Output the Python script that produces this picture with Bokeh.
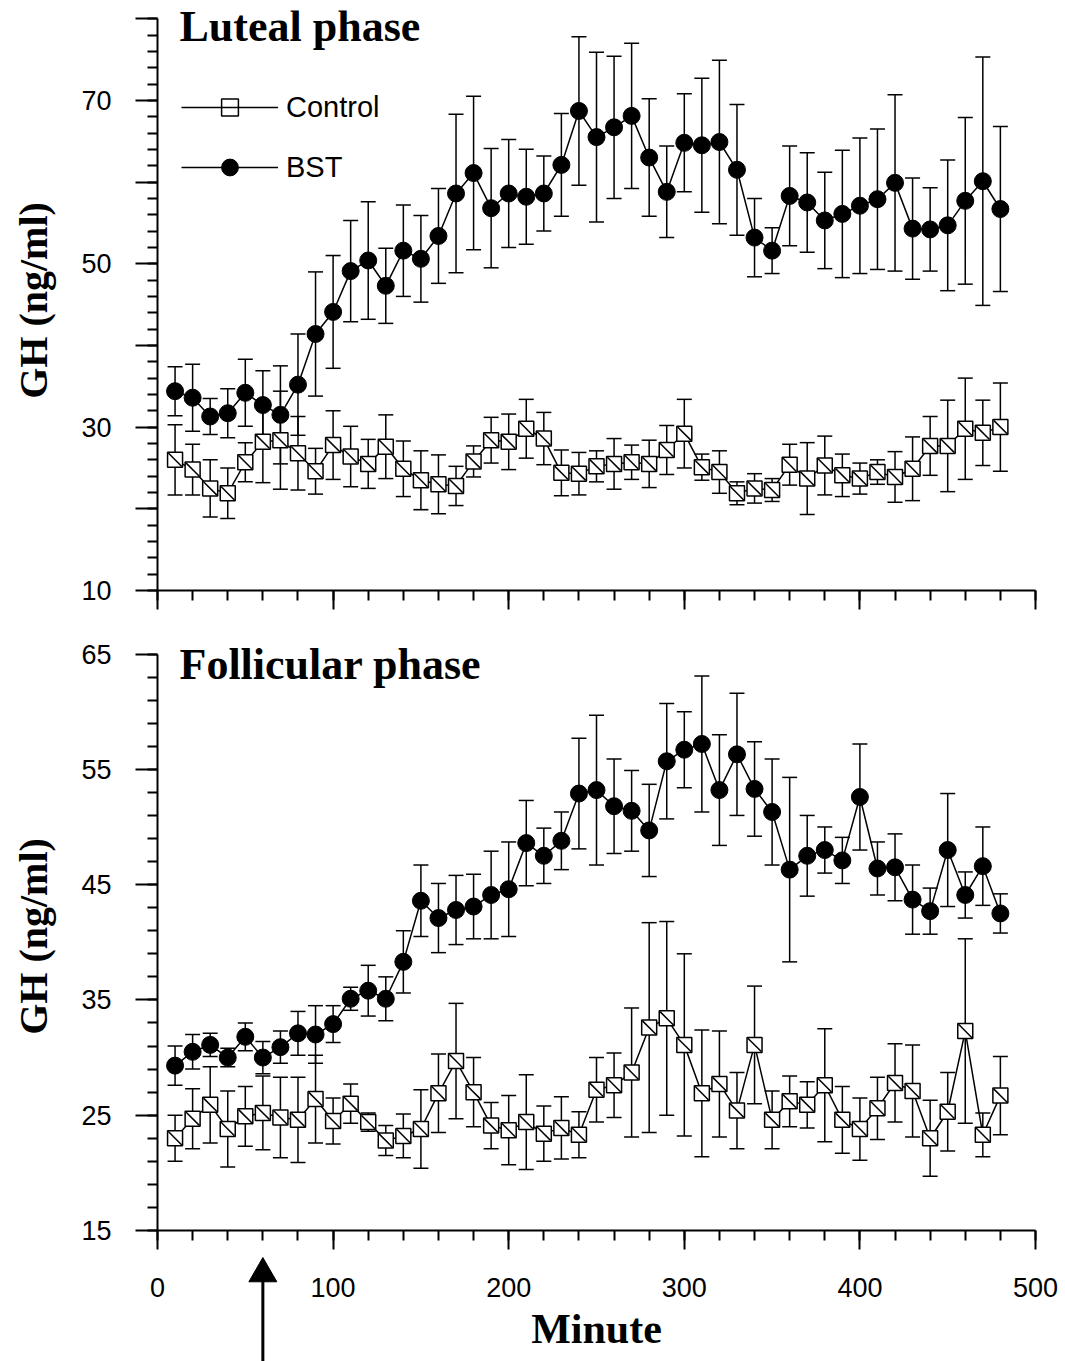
import math
from bokeh.plotting import figure
from bokeh.models import (ColumnDataSource, Whisker, TeeHead, Range1d, FixedTicker,
                          Legend, LegendItem, Label)
from bokeh.core.properties import value
from bokeh.layouts import column
from bokeh.embed import file_html
from bokeh.resources import INLINE

# ---------------- data ----------------
minutes = [10, 20, 30, 40, 50, 60, 70, 80, 90, 100, 110, 120, 130, 140, 150, 160,
           170, 180, 190, 200, 210, 220, 230, 240, 250, 260, 270, 280, 290, 300, 310, 320,
           330, 340, 350, 360, 370, 380, 390, 400, 410, 420, 430, 440, 450, 460, 470, 480]

luteal_control = [26.0, 24.8, 22.5, 21.9, 25.7, 28.2, 28.4, 26.8, 24.6, 27.8,
                  26.4, 25.5, 27.6, 24.9, 23.5, 23.0, 22.8, 25.8, 28.4, 28.2,
                  29.8, 28.6, 24.4, 24.3, 25.2, 25.5, 25.7, 25.5, 27.2, 29.2,
                  25.1, 24.5, 21.9, 22.5, 22.3, 25.4, 23.7, 25.3, 24.1, 23.7,
                  24.5, 23.9, 24.9, 27.7, 27.7, 29.8, 29.3, 30.0]
luteal_control_sem = [4.3, 3.1, 3.5, 3.1, 2.4, 5.0, 6.0, 4.5, 2.8, 4.2,
                      3.7, 3.0, 3.9, 3.4, 3.6, 3.6, 2.4, 1.9, 2.8, 3.4,
                      3.6, 3.2, 2.8, 2.6, 1.9, 3.1, 2.1, 2.9, 3.0, 4.2,
                      1.6, 2.6, 1.4, 1.8, 1.4, 2.5, 4.4, 3.6, 2.6, 1.9,
                      1.5, 3.1, 3.9, 3.6, 5.6, 6.2, 4.0, 5.4]
luteal_bst = [34.4, 33.6, 31.3, 31.7, 34.2, 32.7, 31.5, 35.2, 41.4, 44.1,
              49.1, 50.4, 47.3, 51.6, 50.6, 53.4, 58.6, 61.1, 56.8, 58.6,
              58.2, 58.6, 62.1, 68.7, 65.5, 66.7, 68.1, 63.0, 58.8, 64.8,
              64.5, 64.9, 61.5, 53.2, 51.6, 58.3, 57.5, 55.3, 56.1, 57.1,
              57.9, 59.9, 54.3, 54.2, 54.7, 57.7, 60.1, 56.7]
luteal_bst_sem = [3.0, 4.1, 2.2, 3.0, 4.1, 4.2, 6.0, 6.2, 7.6, 6.9,
                  6.2, 7.2, 4.6, 5.6, 5.3, 5.8, 9.7, 9.4, 7.3, 6.6,
                  5.8, 4.6, 6.3, 9.1, 10.4, 8.7, 8.9, 7.2, 5.6, 6.0,
                  8.2, 10.0, 8.0, 4.8, 2.8, 6.1, 6.1, 5.9, 7.8, 8.3,
                  8.6, 10.8, 6.2, 5.1, 8.0, 10.2, 15.2, 10.1]

follicular_control = [23.0, 24.7, 25.9, 23.8, 24.9, 25.2, 24.8, 24.6, 26.4, 24.5,
                      26.0, 24.4, 22.8, 23.2, 23.8, 26.9, 29.7, 27.0, 24.1, 23.7,
                      24.4, 23.4, 23.9, 23.3, 27.2, 27.6, 28.7, 32.6, 33.4, 31.1,
                      26.9, 27.7, 25.4, 31.1, 24.6, 26.2, 25.9, 27.6, 24.6, 23.8,
                      25.6, 27.8, 27.1, 23.0, 25.3, 32.3, 23.3, 26.7]
follicular_control_sem = [2.0, 2.6, 3.3, 3.3, 2.6, 3.2, 3.5, 3.7, 3.8, 2.0,
                          1.7, 0.8, 1.3, 1.9, 3.4, 3.4, 5.0, 3.0, 2.0, 3.0,
                          4.1, 2.4, 2.7, 2.0, 2.8, 2.8, 5.6, 9.1, 8.4, 7.9,
                          5.5, 4.6, 3.3, 5.1, 2.5, 2.2, 2.0, 4.9, 2.9, 2.7,
                          2.7, 3.4, 4.0, 3.3, 3.4, 8.0, 1.9, 3.4]
follicular_bst = [29.3, 30.5, 31.1, 30.0, 31.8, 30.0, 30.9, 32.1, 32.0, 32.9,
                  35.1, 35.8, 35.1, 38.3, 43.6, 42.1, 42.8, 43.1, 44.1, 44.6,
                  48.6, 47.5, 48.8, 52.9, 53.2, 51.8, 51.4, 49.7, 55.7, 56.7,
                  57.2, 53.2, 56.3, 53.3, 51.3, 46.3, 47.5, 48.0, 47.1, 52.6,
                  46.4, 46.5, 43.7, 42.7, 48.0, 44.1, 46.6, 42.5]
follicular_bst_sem = [1.7, 1.5, 1.0, 0.8, 1.2, 1.4, 1.4, 1.9, 2.5, 1.6,
                      1.0, 2.2, 1.9, 2.7, 3.1, 3.0, 3.0, 2.8, 3.8, 4.1,
                      3.7, 2.4, 2.5, 4.8, 6.5, 4.1, 3.5, 4.0, 5.0, 3.3,
                      5.9, 4.8, 5.3, 4.1, 4.6, 8.0, 3.5, 2.0, 2.0, 4.6,
                      2.3, 2.9, 3.0, 2.0, 4.9, 2.0, 3.4, 1.7]

x_tick_values = [0, 100, 200, 300, 400, 500]
x_tick_labels = ["0", "100", "200", "300", "400", "500"]
x_minor_values = list(range(0, 501, 20))
luteal_y_ticks = [10, 20, 30, 40, 50, 60, 70, 80]
luteal_y_labeled = [10, 30, 50, 70]
luteal_y_minor = list(range(10, 81, 2))
follicular_y_ticks = [15, 25, 35, 45, 55, 65]
follicular_y_minor = list(range(15, 66, 2))
injection_minute = 60

SERIF = "Liberation Serif"
SANS = "Liberation Sans"
FRAME_LEFT, FRAME_W, RIGHT_B = 157, 878, 30   # pixel geometry of the 0..500 min frames


def make_panel(title, ctrl, ctrl_sem, bst, bst_sem, y_lo, y_hi, y_axis_top, y_ticks,
               y_labeled, y_minor, height, border_top, border_bottom, with_legend, title_y):
    p = figure(width=1065, height=height, x_range=Range1d(0, 500),
               y_range=Range1d(y_lo, y_hi), output_backend="svg", toolbar_location=None,
               min_border_left=FRAME_LEFT, min_border_right=RIGHT_B,
               min_border_top=border_top, min_border_bottom=border_bottom)
    p.outline_line_color = None
    p.grid.visible = False

    for ax in (p.xaxis[0], p.yaxis[0]):
        ax.axis_line_width = 2
        ax.major_tick_line_width = 2
        ax.minor_tick_line_width = 2
        ax.major_tick_in = 0
        ax.minor_tick_in = 0
        ax.major_label_text_font = SANS
        ax.major_label_text_font_size = "27px"
        ax.major_label_text_color = "black"
        ax.axis_line_color = "black"
        ax.major_tick_line_color = "black"
        ax.minor_tick_line_color = "black"
        ax.axis_label_text_color = "black"

    xa = p.xaxis[0]
    xa.ticker = FixedTicker(ticks=x_tick_values, minor_ticks=x_minor_values)
    xa.major_tick_out = 19
    xa.minor_tick_out = 10
    xa.major_label_overrides = {t: "" for t in x_tick_values}
    xa.major_label_text_font_size = "1px"
    xa.major_label_standoff = 0

    ya = p.yaxis[0]
    ya.bounds = (y_lo, y_axis_top)
    ya.ticker = FixedTicker(ticks=y_ticks, minor_ticks=y_minor)
    ya.major_tick_out = 22
    ya.minor_tick_out = 10
    ya.major_label_standoff = 24
    ya.major_label_overrides = {t: "" for t in y_ticks if t not in y_labeled}
    ya.axis_label = "GH (ng/ml)"
    ya.axis_label_text_font = SERIF
    ya.axis_label_text_font_style = "bold"
    ya.axis_label_text_font_size = "40px"
    ya.axis_label_standoff = 22

    csrc = ColumnDataSource(dict(x=minutes, y=ctrl,
                                 upper=[v + e for v, e in zip(ctrl, ctrl_sem)],
                                 lower=[v - e for v, e in zip(ctrl, ctrl_sem)]))
    bsrc = ColumnDataSource(dict(x=minutes, y=bst,
                                 upper=[v + e for v, e in zip(bst, bst_sem)],
                                 lower=[v - e for v, e in zip(bst, bst_sem)]))
    for src in (csrc, bsrc):
        p.add_layout(Whisker(source=src, base="x", upper="upper", lower="lower",
                             line_width=1.5, line_color="black", level="underlay",
                             upper_head=TeeHead(size=15, line_width=1.5, line_color="black"),
                             lower_head=TeeHead(size=15, line_width=1.5, line_color="black")))

    c_line = p.line("x", "y", source=csrc, line_width=1.5, line_color="black")
    b_line = p.line("x", "y", source=bsrc, line_width=1.5, line_color="black")
    c_sq = p.scatter("x", "y", source=csrc, marker="square", size=15,
                     fill_color="white", line_color="black", line_width=1.5)
    c_dg = p.scatter("x", "y", source=csrc, marker="dash", size=19, angle=-math.pi / 4,
                     line_color="black", line_width=1.5)
    b_ci = p.scatter("x", "y", source=bsrc, marker="circle", size=17,
                     fill_color="black", line_color="black")

    p.add_layout(Label(x=22, y=title_y, x_units="screen", y_units="screen", text=title,
                       text_font=SERIF, text_font_style="bold", text_font_size="44px",
                       text_baseline="alphabetic", text_color="black"))

    if with_legend:
        legend = Legend(items=[LegendItem(label="Control", renderers=[c_line, c_sq, c_dg]),
                               LegendItem(label="BST", renderers=[b_line, b_ci])],
                        location=(24, 402), glyph_width=97, glyph_height=42,
                        label_text_font=SANS, label_text_font_size="29px",
                        label_text_color="black",
                        label_standoff=8, spacing=18, padding=0, margin=0,
                        border_line_color=None, background_fill_alpha=0)
        p.add_layout(legend)
    return p


top = make_panel("Luteal phase", luteal_control, luteal_control_sem, luteal_bst, luteal_bst_sem,
                 10, 81, 80, luteal_y_ticks, luteal_y_labeled, luteal_y_minor,
                 height=622, border_top=10, border_bottom=32,
                 with_legend=True, title_y=564)
bottom = make_panel("Follicular phase", follicular_control, follicular_control_sem,
                    follicular_bst, follicular_bst_sem,
                    15, 66, 65, follicular_y_ticks, follicular_y_ticks, follicular_y_minor,
                    height=632, border_top=20, border_bottom=24,
                    with_legend=False, title_y=566)

# ---- strip under the bottom panel: minute labels, axis title and the treatment arrow ----
STRIP_H = 107                      # 1361 - 622 - 632
px_per_min = FRAME_W / 500
strip = figure(width=1065, height=STRIP_H, output_backend="svg", toolbar_location=None,
               x_axis_location=None, y_axis_location=None,
               y_range=Range1d(0, STRIP_H),
               min_border_left=0, min_border_right=0, min_border_top=0, min_border_bottom=0)
strip.outline_line_color = None
strip.grid.visible = False

if "frame_align" in strip.properties():
    # let the strip's frame span the full width so edge labels are not clipped
    strip.frame_align = False
    strip.x_range = Range1d(-FRAME_LEFT / px_per_min, 500 + RIGHT_B / px_per_min)
    tick_align = ["center"] * len(x_tick_values)
else:
    strip.x_range = Range1d(0, 500)
    tick_align = ["left"] + ["center"] * (len(x_tick_values) - 2) + ["right"]

# y in the strip is measured in pixels from its bottom edge
strip.text(x=x_tick_values, y=[STRIP_H - 32.6] * len(x_tick_values), text=x_tick_labels,
           text_align=tick_align,
           text_font=value(SANS), text_font_size="27px",
           text_baseline="middle", text_color="black")
strip.text(x=[250], y=[STRIP_H - 74.8], text=["Minute"],
           text_font=value(SERIF), text_font_style="bold", text_font_size="42px",
           text_align="center", text_baseline="middle", text_color="black")

head_y = STRIP_H - 19.2            # triangle centre; tip lies ~16 px above it
strip.segment(x0=[injection_minute], y0=[-5], x1=[injection_minute], y1=[head_y],
              line_width=3, line_color="black")
strip.scatter(x=[injection_minute], y=[head_y], marker="triangle", size=28,
              fill_color="black", line_color="black", line_width=1)

layout = column(top, bottom, strip, spacing=0)
open("out.html", "w").write(file_html(layout, INLINE))
